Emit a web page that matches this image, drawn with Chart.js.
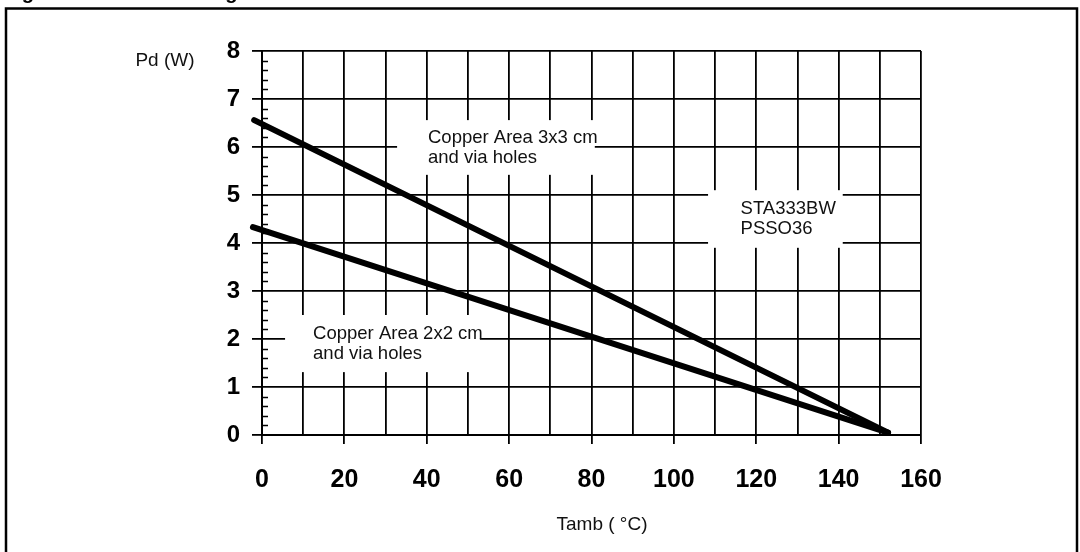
<!DOCTYPE html>
<html>
<head>
<meta charset="utf-8">
<script src="https://cdn.jsdelivr.net/npm/chart.js@4.4.1/dist/chart.umd.min.js"></script>
<style>
  html, body { margin: 0; padding: 0; background: #fff; }
  #wrap { width: 1080px; height: 552px; }
</style>
</head>
<body>
<div id="wrap"><canvas id="derating"></canvas></div>
<script>
// Power derating: Pd (W) vs Tamb (°C)
const tambTicks = [0, 20, 40, 60, 80, 100, 120, 140, 160];
const pdTicks = [0, 1, 2, 3, 4, 5, 6, 7, 8];

const tamb3x3 = [-1.9, 152];
const pd3x3 = [6.56, 0.05];
const tamb2x2 = [-2.2, 152];
const pd2x2 = [4.33, 0.05];

const note3x3 = ['Copper Area 3x3 cm', 'and via holes'];
const note2x2 = ['Copper Area 2x2 cm', 'and via holes'];
const noteDevice = ['STA333BW', 'PSSO36'];

const FONT = "'Liberation Sans', Arial, Helvetica, sans-serif";

function toPoints(xs, ys) {
    return xs.map((x, i) => ({ x: x, y: ys[i] }));
}

// white label boxes that cut the grid, in data units
const boxes = [
    { lines: note3x3, x0: 32.8, x1: 80.8, y0: 6.56, y1: 5.42, tx: 40.3, ty: 5.98 },
    { lines: noteDevice, x0: 108.3, x1: 141, y0: 5.1, y1: 3.9, tx: 116.2, ty: 4.5 },
    { lines: note2x2, x0: 5.6, x1: 52.9, y0: 2.5, y1: 1.31, tx: 12.4, ty: 1.9 }
];

const decorPlugin = {
    id: 'decor',
    beforeDatasetsDraw(chart) {
        const { ctx, chartArea } = chart;
        const xs = chart.scales.x, ys = chart.scales.y;
        ctx.save();

        // minor ticks on the Pd axis, every 0.2 W
        ctx.strokeStyle = '#000';
        ctx.lineWidth = 1.5;
        for (let v = 0; v < 8; v++) {
            for (let k = 1; k < 5; k++) {
                const py = Math.round(ys.getPixelForValue(v + k * 0.2)) + 0.5;
                ctx.beginPath();
                ctx.moveTo(chartArea.left, py);
                ctx.lineTo(chartArea.left + 6, py);
                ctx.stroke();
            }
        }

        // label boxes
        ctx.font = '18.5px ' + FONT;
        ctx.textBaseline = 'middle';
        ctx.textAlign = 'left';
        boxes.forEach(b => {
            const x0 = xs.getPixelForValue(b.x0), x1 = xs.getPixelForValue(b.x1);
            const y0 = ys.getPixelForValue(b.y0), y1 = ys.getPixelForValue(b.y1);
            ctx.fillStyle = '#fff';
            ctx.fillRect(x0, y0, x1 - x0, y1 - y0);
            ctx.fillStyle = '#111';
            const tx = xs.getPixelForValue(b.tx);
            const ty = ys.getPixelForValue(b.ty);
            b.lines.forEach((t, i) => ctx.fillText(t, tx, ty - 10 + i * 20));
        });
        ctx.restore();
    },
    afterDraw(chart) {
        const { ctx, chartArea } = chart;
        ctx.save();

        // outer frame
        ctx.strokeStyle = '#000';
        ctx.lineWidth = 2.5;
        ctx.strokeRect(6, 8.5, 1071, 600);

        // figure title, cut off by the top edge
        ctx.fillStyle = '#000';
        ctx.font = 'bold 20px ' + FONT;
        ctx.textBaseline = 'alphabetic';
        ctx.textAlign = 'left';
        ctx.fillText('Figure 9. Power derating curve', 4, -1);

        // axis titles
        ctx.font = '19px ' + FONT;
        ctx.textBaseline = 'middle';
        ctx.textAlign = 'center';
        ctx.fillStyle = '#111';
        ctx.fillText('Pd (W)', 165, chartArea.top + 10);
        ctx.fillText('Tamb ( \u00b0C)', 602, chartArea.bottom + 90);
        ctx.restore();
    }
};

const ctx = document.getElementById('derating').getContext('2d');

new Chart(ctx, {
    type: 'scatter',
    data: {
        datasets: [
            {
                label: 'Copper Area 3x3 cm',
                data: toPoints(tamb3x3, pd3x3),
                showLine: true,
                borderColor: '#000',
                borderWidth: 6,
                borderCapStyle: 'round',
                pointRadius: 0,
                clip: false
            },
            {
                label: 'Copper Area 2x2 cm',
                data: toPoints(tamb2x2, pd2x2),
                showLine: true,
                borderColor: '#000',
                borderWidth: 6,
                borderCapStyle: 'round',
                pointRadius: 0,
                clip: false
            }
        ]
    },
    options: {
        responsive: true,
        maintainAspectRatio: false,
        animation: false,
        layout: { padding: { left: 212, right: 159, top: 51, bottom: 0 } },
        plugins: {
            legend: { display: false },
            tooltip: { enabled: false }
        },
        scales: {
            x: {
                type: 'linear',
                min: 0,
                max: 160,
                afterFit: s => { s.height = 117; },
                afterBuildTicks: s => {
                    const t = [];
                    for (let v = 0; v <= 160; v += 10) t.push({ value: v });
                    s.ticks = t;
                },
                ticks: {
                    autoSkip: false,
                    maxRotation: 0,
                    padding: 21,
                    color: '#000',
                    font: { family: FONT, size: 25, weight: 'bold' },
                    callback: v => tambTicks.includes(v) ? String(v) : ''
                },
                grid: {
                    color: '#000',
                    lineWidth: 1.8,
                    tickLength: 9,
                    tickColor: c => (c.tick && tambTicks.includes(c.tick.value)) ? '#000' : 'rgba(0,0,0,0)'
                },
                border: { display: true, color: '#000', width: 2 }
            },
            y: {
                min: 0,
                max: 8,
                afterFit: s => { s.width = 50; },
                afterBuildTicks: s => { s.ticks = pdTicks.map(v => ({ value: v })); },
                ticks: {
                    padding: 12,
                    color: '#000',
                    font: { family: FONT, size: 24, weight: 'bold' }
                },
                grid: {
                    color: '#000',
                    lineWidth: 1.8,
                    tickLength: 10,
                    tickColor: '#000'
                },
                border: { display: true, color: '#000', width: 2 }
            }
        }
    },
    plugins: [decorPlugin]
});
</script>
</body>
</html>
